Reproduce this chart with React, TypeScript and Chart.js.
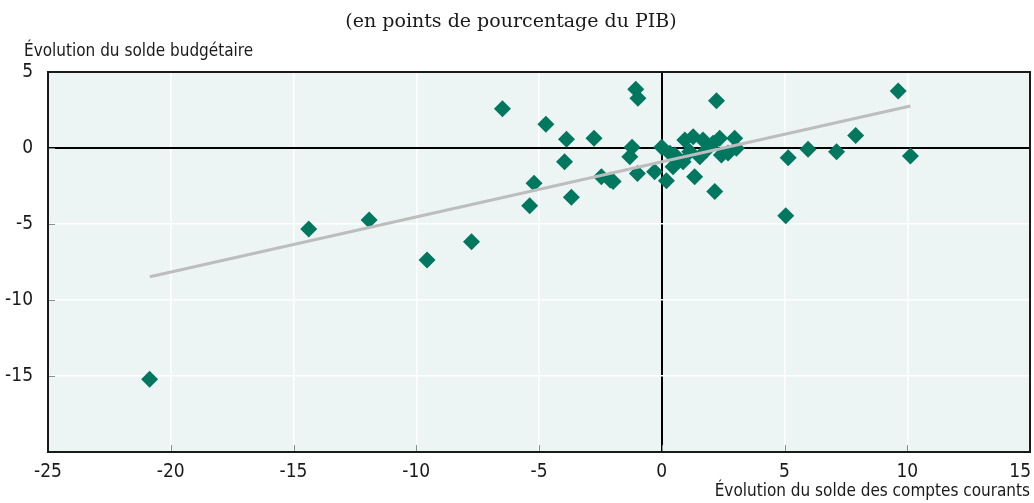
import React, { useEffect, useRef } from "react";
import { Chart, registerables } from "chart.js";

Chart.register(...registerables);

// Change in current account balance (x) and change in budget balance (y), % of GDP
const currentAccount: number[] = [
  -20.86, -14.38, -11.92, -9.56, -7.75, -6.49, -5.38, -5.2, -4.72, -3.88,
  -3.96, -3.68, -2.76, -2.46, -2.1, -1.98, -1.06, -0.97, -1.21, -1.3,
  -0.99, -0.29, 0.0, 0.19, 0.53, 0.94, 1.28, 0.87, 1.34, 1.68,
  1.55, 2.09, 2.36, 2.43, 2.97, 3.04, 2.16, 1.14, 0.46, 2.23,
  5.15, 5.96, 7.12, 7.9, 9.63, 10.13, 5.05, 0.33, 1.82, 2.7, 0.6,
];
const budgetBalance: number[] = [
  -15.22, -5.33, -4.74, -7.37, -6.16, 2.59, -3.8, -2.32, 1.56, 0.57,
  -0.9, -3.24, 0.64, -1.89, -2.1, -2.2, 3.86, 3.27, 0.05, -0.57,
  -1.67, -1.56, 0.05, -2.15, -0.46, 0.53, 0.74, -0.9, -1.89, 0.53,
  -0.57, 0.31, 0.64, -0.46, 0.64, -0.02, -2.87, -0.24, -1.23, 3.11,
  -0.64, -0.09, -0.24, 0.83, 3.75, -0.53, -4.45, -0.35, -0.13, -0.33, -0.8,
];
// Linear trend line end points
const trendX: number[] = [-20.85, 10.13];
const trendY: number[] = [-8.47, 2.76];

const xTicks: number[] = [-25, -20, -15, -10, -5, 0, 5, 10, 15];
const yTicks: number[] = [5, 0, -5, -10, -15];

const TITLE = "(en points de pourcentage du PIB)";
const Y_TITLE = "Évolution du solde budgétaire";
const X_TITLE = "Évolution du solde des comptes courants";

const SANS = "'Liberation Sans Narrow', 'DejaVu Sans Condensed', Roboto, sans-serif";
const SERIF = "'DejaVu Serif', 'Liberation Serif', serif";

const decorPlugin = {
  id: "decor",
  beforeDraw(chart: any) {
    const { ctx, chartArea } = chart;
    ctx.save();
    ctx.fillStyle = "#EDF5F4";
    ctx.fillRect(chartArea.left, chartArea.top, chartArea.right - chartArea.left, chartArea.bottom - chartArea.top);
    ctx.restore();
  },
  beforeDatasetsDraw(chart: any) {
    const { ctx, chartArea, scales } = chart;
    ctx.save();
    // small inner tick marks
    ctx.strokeStyle = "#8c8c8c";
    ctx.lineWidth = 1;
    for (const v of xTicks) {
      const px = Math.round(scales.x.getPixelForValue(v)) + 0.5;
      ctx.beginPath();
      ctx.moveTo(px, chartArea.bottom);
      ctx.lineTo(px, chartArea.bottom - 7);
      ctx.stroke();
    }
    for (const v of yTicks) {
      const py = Math.round(scales.y.getPixelForValue(v)) + 0.5;
      ctx.beginPath();
      ctx.moveTo(chartArea.left, py);
      ctx.lineTo(chartArea.left + 7, py);
      ctx.stroke();
    }
    // frame
    ctx.strokeStyle = "#1a1a1a";
    ctx.lineWidth = 2;
    ctx.strokeRect(chartArea.left, chartArea.top, chartArea.right - chartArea.left, chartArea.bottom - chartArea.top);
    ctx.restore();
  },
  afterDraw(chart: any) {
    const { ctx, chartArea, scales } = chart;
    ctx.save();
    ctx.fillStyle = "#1a1a1a";
    // x tick labels (last one kept inside the frame)
    ctx.font = `19px ${SANS}`;
    ctx.textBaseline = "middle";
    xTicks.forEach((v, i) => {
      const px = scales.x.getPixelForValue(v);
      const last = i === xTicks.length - 1;
      ctx.textAlign = last ? "right" : "center";
      ctx.fillText(String(v), last ? chartArea.right + 1 : px, chartArea.bottom + 20);
    });
    ctx.font = `19px ${SERIF}`;
    ctx.textAlign = "center";
    ctx.fillText(TITLE, 511, 22);
    ctx.font = `17px ${SANS}`;
    ctx.textAlign = "left";
    ctx.fillText(Y_TITLE, 24, 52);
    ctx.textAlign = "right";
    ctx.fillText(X_TITLE, chartArea.right, 492);
    ctx.restore();
  },
};

export default function App() {
  const canvasRef = useRef<HTMLCanvasElement | null>(null);

  useEffect(() => {
    document.body.style.margin = "0";
    const canvas = canvasRef.current;
    if (!canvas) return;
    const points = currentAccount.map((x, i) => ({ x, y: budgetBalance[i] }));
    const trend = trendX.map((x, i) => ({ x, y: trendY[i] }));
    const chart = new Chart(canvas, {
      type: "scatter",
      data: {
        datasets: [
          {
            type: "line",
            data: trend,
            borderColor: "#BDBDBD",
            borderWidth: 3,
            pointRadius: 0,
            fill: false,
            order: 1,
          } as any,
          {
            type: "scatter",
            data: points,
            pointStyle: "rectRot",
            pointRadius: 8.5,
            pointBackgroundColor: "#00775F",
            pointBorderWidth: 0,
            backgroundColor: "#00775F",
            borderColor: "#00775F",
            order: 2,
          } as any,
        ],
      },
      options: {
        animation: false,
        responsive: false,
        maintainAspectRatio: false,
        layout: { autoPadding: false, padding: { top: 72, right: 4, left: 0, bottom: 0 } },
        plugins: {
          legend: { display: false },
          tooltip: { enabled: false },
          title: { display: false },
        },
        scales: {
          x: {
            type: "linear",
            min: -25,
            max: 15,
            afterFit: (s: any) => { s.height = 51; },
            afterBuildTicks: (s: any) => { s.ticks = xTicks.map((v) => ({ value: v })); },
            ticks: { display: false },
            grid: {
              drawTicks: false,
              color: (c: any) => (c.tick && c.tick.value === 0 ? "#000000" : "#ffffff"),
              lineWidth: (c: any) => (c.tick && c.tick.value === 0 ? 2 : 1.5),
            },
            border: { display: false },
          },
          y: {
            type: "linear",
            min: -20,
            max: 5,
            afterFit: (s: any) => { s.width = 48; },
            afterBuildTicks: (s: any) => { s.ticks = [-20, ...yTicks.slice().reverse()].map((v) => ({ value: v })); },
            ticks: {
              color: "#1a1a1a",
              font: { family: SANS, size: 19 },
              padding: 15,
              callback: (v: any) => (v === -20 ? "" : String(v)),
            },
            grid: {
              drawTicks: false,
              color: (c: any) => (c.tick && c.tick.value === 0 ? "#000000" : "#ffffff"),
              lineWidth: (c: any) => (c.tick && c.tick.value === 0 ? 2 : 1.5),
            },
            border: { display: false },
          },
        },
      },
      plugins: [decorPlugin],
    });
    return () => chart.destroy();
  }, []);

  return (
    <div style={{ width: 1034, height: 503 }}>
      <canvas ref={canvasRef} width={1034} height={503} style={{ display: "block" }} />
    </div>
  );
}
